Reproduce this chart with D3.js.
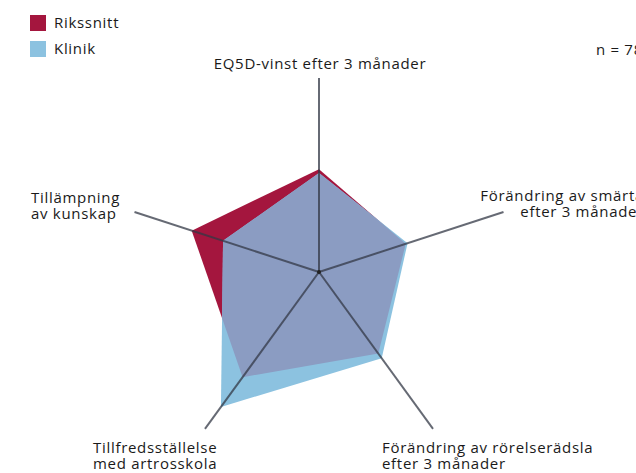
<!doctype html>
<html>
<head>
  <meta charset="utf-8">
  <script src="https://d3js.org/d3.v7.min.js"></script>
  <style>
    body { margin: 0; background: #fff; }
    text { font-family: "Open Sans", "Noto Sans", sans-serif; fill: #1a1a1a; letter-spacing: 0.7px; }
  </style>
</head>
<body>
<div id="chart"></div>
<script>
// axes, clockwise from the top
var axisLabels = [
  ["EQ5D-vinst efter 3 månader"],
  ["Förändring av smärta", "efter 3 månader"],
  ["Förändring av rörelserädsla", "efter 3 månader"],
  ["Tillfredsställelse", "med artrosskola"],
  ["Tillämpning", "av kunskap"]
];
var seriesNames = ["Rikssnitt", "Klinik"];
var rikssnitt = [0.53, 0.47, 0.52, 0.67, 0.69];
var klinik    = [0.51, 0.48, 0.55, 0.86, 0.52];
var nLabel = "n = 78";

var width = 636, height = 473;
var cx = 319, cy = 272, radius = 194;

var svg = d3.select("#chart").append("svg")
    .attr("width", width)
    .attr("height", height);

var r = d3.scaleLinear().domain([0, 1]).range([0, radius]);
var angle = d3.scaleLinear().domain([0, axisLabels.length]).range([0, 2 * Math.PI]);

function pt(i, v) {
  var a = angle(i);
  return [cx + Math.sin(a) * r(v), cy - Math.cos(a) * r(v)];
}
function poly(vals) {
  return "M" + vals.map(function(v, i) { return pt(i, v).join(","); }).join("L") + "Z";
}

// red (Rikssnitt) underneath, blue (Klinik) on top, overlap in grey-blue
svg.append("clipPath").attr("id", "clipRiks")
  .append("path").attr("d", poly(rikssnitt));

svg.append("path").attr("d", poly(rikssnitt)).attr("fill", "#a4163e");
svg.append("path").attr("d", poly(klinik)).attr("fill", "#8cc2e0");
svg.append("path").attr("d", poly(klinik))
    .attr("clip-path", "url(#clipRiks)")
    .attr("fill", "#8b9cc2");

// spokes
var g = svg.append("g");
axisLabels.forEach(function(d, i) {
  var e = pt(i, 1);
  g.append("line")
      .attr("x1", cx).attr("y1", cy)
      .attr("x2", e[0]).attr("y2", e[1])
      .attr("stroke", "#333845")
      .attr("stroke-opacity", 0.75)
      .attr("stroke-width", 2);
});
g.append("circle").attr("cx", cx).attr("cy", cy).attr("r", 2).attr("fill", "#222");

// axis labels
var labelPos = [
  {x: 320, y: 69, anchor: "middle"},
  {x: 644, y: 201, anchor: "end"},
  {x: 382, y: 453, anchor: "start"},
  {x: 93, y: 453, anchor: "start"},
  {x: 31, y: 203, anchor: "start"}
];
axisLabels.forEach(function(lines, i) {
  var t = svg.append("text")
      .attr("x", labelPos[i].x)
      .attr("y", labelPos[i].y)
      .attr("text-anchor", labelPos[i].anchor)
      .style("font-size", "15px");
  lines.forEach(function(l, j) {
    t.append("tspan")
        .attr("x", labelPos[i].x)
        .attr("dy", j === 0 ? 0 : 16)
        .text(l);
  });
});

// legend
var colors = ["#a4163e", "#8cc2e0"];
seriesNames.forEach(function(name, i) {
  svg.append("rect").attr("x", 30).attr("y", 15 + i * 26)
      .attr("width", 16).attr("height", 16).attr("fill", colors[i]);
  svg.append("text").attr("x", 54).attr("y", 28 + i * 26)
      .style("font-size", "15px").text(name);
});

svg.append("text").attr("x", 596).attr("y", 55)
    .style("font-size", "15px").text(nLabel);
</script>
</body>
</html>
